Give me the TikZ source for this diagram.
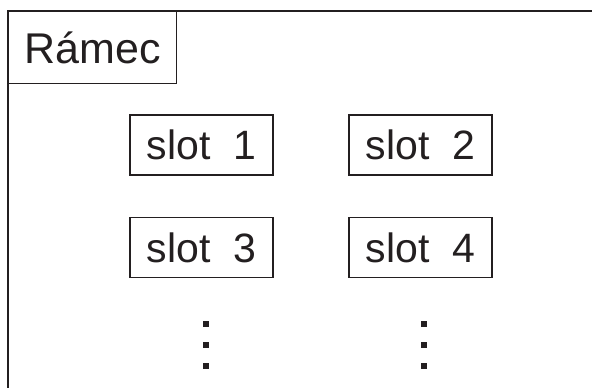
\documentclass[tikz,border=0pt]{standalone}
\usepackage{fontspec}
\setmainfont{Liberation Sans}
\definecolor{ink}{HTML}{231F20}
\begin{document}
\begin{tikzpicture}[x=1pt,y=-1pt,
  line/.style={draw=ink,line width=1.1pt},
  slotbox/.style={line,rectangle,minimum width=143pt,minimum height=60pt,
    inner sep=0pt,font=\fontsize{41}{41}\selectfont,text=ink},
  dotsq/.style={rectangle,fill=ink,minimum size=6pt,inner sep=0pt}]
  \useasboundingbox (0,0) rectangle (592,388);
  % outer frame, open towards right and bottom
  \coordinate (fb) at (8,392);
  \coordinate (ft) at (8,11);
  \coordinate (fr) at (596,11);
  \draw[line] (fb) -- (ft) -- (fr);
  % title tab
  \node[line,rectangle,anchor=north west,minimum width=168pt,minimum height=72pt,
    inner sep=0pt,font=\fontsize{43}{43}\selectfont,text=ink] (title) at (8,11)
    {\raisebox{-1pt}{Rámec}};
  % slots
  \node[slotbox] (s1) at (201.5,145) {slot\hspace{0.28em} 1};
  \node[slotbox] (s2) at (420.5,145) {slot\hspace{0.28em} 2};
  \node[slotbox] (s3) at (201.5,247.5) {slot\hspace{0.28em} 3};
  \node[slotbox] (s4) at (420.5,247.5) {slot\hspace{0.28em} 4};
  % continuation dots
  \foreach \i/\y in {1/324,2/345,3/366}{
    \node[dotsq] (da\i) at (206,\y) {};
    \node[dotsq] (db\i) at (424,\y) {};
  }
\end{tikzpicture}
\end{document}
